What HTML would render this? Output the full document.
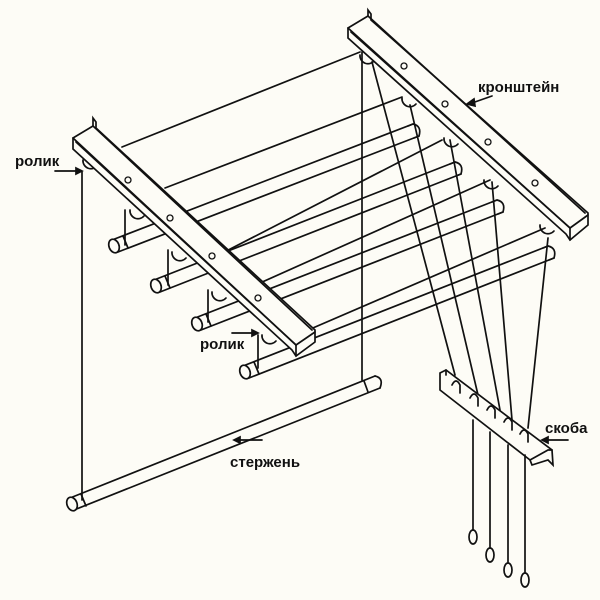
<!DOCTYPE html>
<html><head><meta charset="utf-8"><style>
html,body{margin:0;padding:0;background:#fdfcf6;}
svg{display:block}
text{font-family:"Liberation Sans",sans-serif;font-size:15px;font-weight:bold;fill:#111;}
</style></head><body>
<svg width="600" height="600" viewBox="0 0 600 600" xmlns="http://www.w3.org/2000/svg">
<rect width="600" height="600" fill="#fdfcf6"/>
<g stroke="#111" stroke-width="1.7" fill="none" stroke-linecap="round">
<line x1="122" y1="147" x2="360" y2="52"/>
<line x1="165" y1="188" x2="402" y2="97"/>
<line x1="205" y1="262" x2="442" y2="140"/>
<line x1="240" y1="292" x2="490" y2="180"/>
<line x1="285" y1="340" x2="545" y2="228"/>
<path d="M112,240 L413,124 M118,252 L419,136"/>
<ellipse cx="114" cy="246" rx="5" ry="7" transform="rotate(-21 114 246)" fill="#fdfcf6"/>
<line x1="123" y1="236" x2="128" y2="248"/>
<path d="M154,280 L455,162 M160,292 L461,174"/>
<ellipse cx="156" cy="286" rx="5" ry="7" transform="rotate(-21 156 286)" fill="#fdfcf6"/>
<line x1="165" y1="276" x2="170" y2="288"/>
<path d="M195,318 L497,200 M201,330 L503,212"/>
<ellipse cx="197" cy="324" rx="5" ry="7" transform="rotate(-21 197 324)" fill="#fdfcf6"/>
<line x1="206" y1="314" x2="211" y2="326"/>
<path d="M243,366 L548,246 M249,378 L554,258"/>
<ellipse cx="245" cy="372" rx="5" ry="7" transform="rotate(-21 245 372)" fill="#fdfcf6"/>
<line x1="254" y1="362" x2="259" y2="374"/>
<path d="M408,126 L413,124 Q422,126 419,136 L414,138"/>
<path d="M450,164 L455,162 Q464,164 461,174 L456,176"/>
<path d="M492,202 L497,200 Q506,202 503,212 L498,214"/>
<path d="M543,248 L548,246 Q557,248 554,258 L549,260"/>
<line x1="82" y1="172" x2="82" y2="500"/>
<line x1="362" y1="52" x2="362" y2="380"/>
<line x1="125" y1="210" x2="125" y2="245"/>
<line x1="168" y1="250" x2="168" y2="285"/>
<line x1="208" y1="290" x2="208" y2="322"/>
<line x1="258" y1="335" x2="258" y2="368"/>
<line x1="372" y1="62" x2="455" y2="375"/>
<line x1="410" y1="105" x2="478" y2="395"/>
<line x1="450" y1="140" x2="500" y2="410"/>
<line x1="492" y1="182" x2="512" y2="420"/>
<line x1="548" y1="238" x2="528" y2="428"/>
<path d="M83,160 a8,8 0 0,0 14,6"/><path d="M360,55 a8,8 0 0,0 14,6"/>
<path d="M130,210 a8,8 0 0,0 14,6"/><path d="M172,252 a8,8 0 0,0 14,6"/>
<path d="M212,292 a8,8 0 0,0 14,6"/><path d="M262,335 a8,8 0 0,0 14,6"/>
<path d="M402,98 a8,8 0 0,0 14,6"/><path d="M444,138 a8,8 0 0,0 14,6"/>
<path d="M484,180 a8,8 0 0,0 14,6"/><path d="M540,225 a8,8 0 0,0 14,6"/>
<path d="M73,138 L93,126 L93,118 L96,122 L96,128 L315,330 L315,342 L296,356 L292,350 L73,149 Z" fill="#fdfcf6"/>
<line x1="73" y1="138" x2="296" y2="345"/>
<line x1="76" y1="142" x2="296" y2="345"/>
<line x1="93" y1="126" x2="312" y2="330"/>
<line x1="296" y1="345" x2="296" y2="356"/>
<line x1="296" y1="345" x2="315" y2="332"/>
<g stroke-width="1.3">
<circle cx="128" cy="180" r="3"/><circle cx="170" cy="218" r="3"/><circle cx="212" cy="256" r="3"/><circle cx="258" cy="298" r="3"/>
</g>
<path d="M348,28 L368,16 L368,10 L371,14 L371,20 L588,213 L588,225 L570,240 L566,234 L348,38 Z" fill="#fdfcf6"/>
<line x1="348" y1="28" x2="570" y2="228"/>
<line x1="351" y1="32" x2="570" y2="228"/>
<line x1="368" y1="16" x2="585" y2="213"/>
<line x1="570" y1="228" x2="570" y2="240"/>
<line x1="570" y1="228" x2="588" y2="215"/>
<g stroke-width="1.3">
<circle cx="404" cy="66" r="3"/><circle cx="445" cy="104" r="3"/><circle cx="488" cy="142" r="3"/><circle cx="535" cy="183" r="3"/>
</g>
<path d="M70,498 L375,376 M74,510 L380,388"/>
<ellipse cx="72" cy="504" rx="5" ry="7" transform="rotate(-21 72 504)" fill="#fdfcf6"/>
<line x1="81" y1="494" x2="86" y2="506"/>
<path d="M375,376 Q384,378 380,388"/>
<line x1="364" y1="381" x2="368" y2="392"/>
<path d="M440,373 L446,370 L552,450 L553,465 L548,460 L532,465 L530,460 L440,390 Z" fill="#fdfcf6"/>
<path d="M446,370 L446,375 M530,460 L548,450 L552,450"/>
<path d="M452,385 q4,-8 8,0 l0,8 M470,398 q4,-8 8,0 l0,8 M487,410 q4,-8 8,0 l0,8 M504,422 q4,-8 8,0 l0,8 M520,434 q4,-8 8,0 l0,8"/>
<line x1="473" y1="420" x2="473" y2="530"/>
<line x1="490" y1="432" x2="490" y2="548"/>
<line x1="508" y1="445" x2="508" y2="562"/>
<line x1="525" y1="455" x2="525" y2="572"/>
<ellipse cx="473" cy="537" rx="4" ry="7"/>
<ellipse cx="490" cy="555" rx="4" ry="7"/>
<ellipse cx="508" cy="570" rx="4" ry="7"/>
<ellipse cx="525" cy="580" rx="4" ry="7"/>
<line x1="55" y1="171" x2="76" y2="171"/><path d="M76,168 L82,171 L76,174 Z" fill="#111"/>
<line x1="232" y1="333" x2="252" y2="333"/><path d="M252,330 L258,333 L252,336 Z" fill="#111"/>
<line x1="492" y1="96" x2="472" y2="103"/><path d="M474,99 L467,104 L475,106 Z" fill="#111"/>
<line x1="262" y1="440" x2="240" y2="440"/><path d="M240,437 L234,440 L240,443 Z" fill="#111"/>
<line x1="568" y1="440" x2="548" y2="440"/><path d="M548,437 L542,440 L548,443 Z" fill="#111"/>
</g>
<text x="15" y="166">ролик</text>
<text x="200" y="349">ролик</text>
<text x="478" y="92">кронштейн</text>
<text x="230" y="467">стержень</text>
<text x="545" y="433">скоба</text>
</svg>
</body></html>
